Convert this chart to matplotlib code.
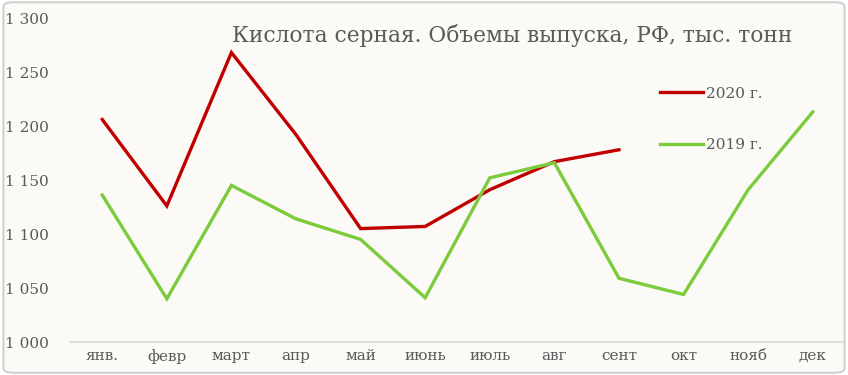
import matplotlib
matplotlib.use("Agg")
import matplotlib.pyplot as plt
from matplotlib.patches import FancyBboxPatch

months = ["янв.", "февр", "март", "апр", "май", "июнь", "июль", "авг", "сент", "окт", "нояб", "дек"]
y2020 = [1206, 1126, 1268, 1192, 1105, 1107, 1141, 1167, 1178]
y2019 = [1136, 1040, 1145, 1114, 1095, 1041, 1152, 1166, 1059, 1044, 1141, 1213]
yticks = [1000, 1050, 1100, 1150, 1200, 1250, 1300]
ytick_labels = ["1 000", "1 050", "1 100", "1 150", "1 200", "1 250", "1 300"]
title = "Кислота серная. Объемы выпуска, РФ, тыс. тонн"

plt.rcParams['font.family'] = ['DejaVu Serif']
bg = "#FBFAF6"
txt = "#595959"

fig = plt.figure(figsize=(8.48, 3.75), dpi=100, facecolor="white")
border = FancyBboxPatch((0.004, 0.006), 0.992, 0.988, boxstyle="round,pad=0,rounding_size=0.012",
                        transform=fig.transFigure, facecolor=bg, edgecolor="#D0D0D0", linewidth=1.5,
                        zorder=-10)
fig.patches.append(border)

ax = fig.add_axes([0.0825, 0.088, 0.914, 0.864])
ax.set_facecolor("none")
x = list(range(len(months)))
ax.plot(x[:len(y2020)], y2020, color="#C00000", lw=2.4, label="2020 г.", solid_joinstyle="miter")
ax.plot(x, y2019, color="#7CCB3C", lw=2.4, label="2019 г.", solid_joinstyle="miter")
ax.set_xlim(-0.5, len(months) - 0.5)
ax.set_ylim(1000, 1300)
ax.set_yticks(yticks)
ax.set_yticklabels(ytick_labels)
ax.set_xticks(x)
ax.set_xticklabels(months)
ax.tick_params(axis="both", length=0, colors=txt, labelsize=11)
ax.tick_params(axis="x", pad=5)
for s in ["top", "right", "left"]:
    ax.spines[s].set_visible(False)
ax.spines["bottom"].set_color("#D9D9D9")
ax.spines["bottom"].set_linewidth(1.2)
for lab in ax.get_yticklabels():
    lab.set_horizontalalignment("left")
ax.yaxis.set_tick_params(pad=47)

fig.text(0.273, 0.905, title, fontsize=15.7, color=txt, va="center", ha="left")
leg = ax.legend(loc="upper left", bbox_to_anchor=(0.761, 0.788), frameon=False, fontsize=11,
                labelcolor=txt, handlelength=2.85, handletextpad=0.15, labelspacing=2.45,
                borderpad=0, borderaxespad=0)
fig.savefig("out.png", dpi=100, facecolor="white")
